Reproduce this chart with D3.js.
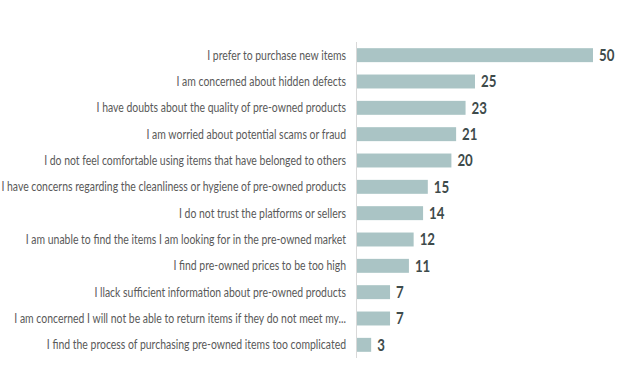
<!DOCTYPE html>
<html>
<head>
<meta charset="utf-8">
<script src="https://cdn.jsdelivr.net/npm/d3@7"></script>
<style>
  body { margin: 0; background: #fff; }
  .cat { font-family: Lato, "Open Sans", sans-serif; font-size: 13px; fill: #595959; }
  .val { font-family: Lato, "Open Sans", sans-serif; font-size: 16.5px; font-weight: bold; fill: #3e4b4b; }
</style>
</head>
<body>
<div id="chart"></div>
<script>
// reasons for not buying pre-owned
var categories = [
  "I prefer to purchase new items",
  "I am concerned about hidden defects",
  "I have doubts about the quality of pre-owned products",
  "I am worried about potential scams or fraud",
  "I do not feel comfortable using items that have belonged to others",
  "I have concerns regarding the cleanliness or hygiene of pre-owned products",
  "I do not trust the platforms or sellers",
  "I am unable to find the items I am looking for in the pre-owned market",
  "I find pre-owned prices to be too high",
  "I llack sufficient information about pre-owned products",
  "I am concerned I will not be able to return items if they do not meet my...",
  "I find the process of purchasing pre-owned items too complicated"
];
var values = [50, 25, 23, 21, 20, 15, 14, 12, 11, 7, 7, 3];

var svgWidth = 627, svgHeight = 367;

var data = categories.map(function(c, i) { return {cat: c, val: values[i]}; });

var svg = d3.select("#chart").append("svg")
    .attr("width", svgWidth)
    .attr("height", svgHeight);

var x = d3.scaleLinear().domain([0, 50]).range([357, 593]);
var y = d3.scaleBand().domain(categories).range([42, 358]).paddingInner(0.47).paddingOuter(0.235);

// bars
svg.selectAll(".bar")
    .data(data)
  .enter().append("rect")
    .attr("class", "bar")
    .attr("x", x(0))
    .attr("y", function(d) { return y(d.cat); })
    .attr("width", function(d) { return x(d.val) - x(0); })
    .attr("height", y.bandwidth())
    .attr("fill", "#aac4c5");

// vertical axis line
svg.append("line")
    .attr("x1", x(0) - 0.5).attr("x2", x(0) - 0.5)
    .attr("y1", 42).attr("y2", 358)
    .attr("stroke", "#d9d9d9")
    .attr("stroke-width", 1);

// category labels (font is condensed in the original, squeeze to fit)
var labelEnd = x(0) - 11;
var cats = svg.selectAll(".cat")
    .data(data)
  .enter().append("text")
    .attr("class", "cat")
    .attr("dy", "0.35em")
    .attr("text-anchor", "end")
    .text(function(d) { return d.cat; });

var maxW = d3.max(cats.nodes(), function(n) { return n.getComputedTextLength(); });
var k = Math.min(1, (labelEnd - 1) / maxW);

cats.attr("transform", function(d) {
  return "translate(" + labelEnd + "," + (y(d.cat) + y.bandwidth() / 2) + ") scale(" + k + ",1)";
});

// value labels
svg.selectAll(".val")
    .data(data)
  .enter().append("text")
    .attr("class", "val")
    .attr("dy", "0.36em")
    .attr("transform", function(d) {
      return "translate(" + (x(d.val) + 6) + "," + (y(d.cat) + y.bandwidth() / 2) + ") scale(" + k + ",1)";
    })
    .text(function(d) { return d.val; });
</script>
</body>
</html>
